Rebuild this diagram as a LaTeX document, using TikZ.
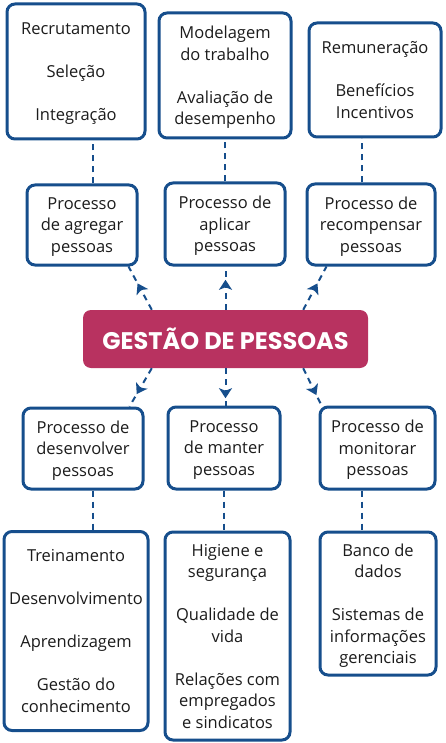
\documentclass[tikz,border=0pt]{standalone}
\usepackage{fontspec}
\setmainfont{Open Sans}
\newfontfamily\titlefont{Poppins}
\usepackage{xcolor}
\usepackage{tikz}
\usetikzlibrary{arrows.meta,decorations.markings}

\definecolor{boxblue}{RGB}{22,78,140}
\definecolor{gpred}{RGB}{184,50,96}
\definecolor{ink}{RGB}{28,28,28}

\begin{document}
\begin{tikzpicture}[x=1pt,y=-1pt]
	\begin{scope}

\tikzset{box/.style={draw=boxblue,line width=3pt,rounded corners=8pt,fill=white,
    align=center,text=ink,inner sep=0pt,text depth=-2pt,font=\fontsize{16.5}{21.5}\selectfont}}
\tikzset{tie/.style={boxblue,line width=2pt,dash pattern=on 6pt off 5pt}}
\tikzset{link/.style={tie,postaction={decorate},
    decoration={markings,mark=at position 30pt with {\arrow{Stealth[length=10pt,width=13pt,inset=2.5pt]}}}}}

\useasboundingbox (0,0) rectangle (446,743);

% the activity boxes on top
\node(recr)[box,minimum width=138pt,minimum height=135pt] at (76,71.5)
  {Recrutamento\\[\baselineskip]Seleção\\[\baselineskip]Integração};
\node(model)[box,minimum width=132pt,minimum height=125pt] at (225,75.5)
  {Modelagem\\do trabalho\\[\baselineskip]Avaliação de\\desempenho};
\node(remun)[box,minimum width=132pt,minimum height=114pt] at (375,80)
  {Remuneração\\[\baselineskip]Benefícios\\Incentivos};

% the processes
\node(agregar)[box,minimum width=110pt,minimum height=80pt] at (82,225)
  {Processo\\de agregar\\pessoas};
\node(aplicar)[box,minimum width=120pt,minimum height=82pt] at (225,224)
  {Processo de\\aplicar\\pessoas};
\node(recomp)[box,minimum width=128pt,minimum height=81pt] at (371,224.5)
  {Processo de\\recompensar\\pessoas};

\node(desenv)[box,minimum width=120pt,minimum height=81pt] at (83,448.5)
  {Processo de\\desenvolver\\pessoas};
\node(manter)[box,minimum width=112pt,minimum height=82pt] at (224,448)
  {Processo\\de manter\\pessoas};
\node(monit)[box,minimum width=115pt,minimum height=82pt] at (377.5,448)
  {Processo de\\monitorar\\pessoas};

% the activity boxes below
\node(trein)[box,minimum width=144pt,minimum height=199pt] at (76,631)
  {Treinamento\\[\baselineskip]Desenvolvimento\\[\baselineskip]Aprendizagem\\[\baselineskip]Gestão do\\conhecimento};
\node(higiene)[box,minimum width=125pt,minimum height=208pt] at (227.5,636)
  {Higiene e\\segurança\\[\baselineskip]Qualidade de\\vida\\[\baselineskip]Relações com\\empregados\\e sindicatos};
\node(banco)[box,minimum width=116pt,minimum height=143pt] at (378,603.5)
  {Banco de\\dados\\[\baselineskip]Sistemas de\\informações\\gerenciais};

% the centre
\node(gestao)[fill=gpred,rounded corners=8pt,minimum width=285pt,minimum height=58pt,
  text=white,font=\titlefont\bfseries\fontsize{24}{28}\selectfont] at (225.5,339)
  {GESTÃO DE PESSOAS};

% dashed ties
\draw[tie] ([xshift=11pt]agregar.north) -- ([xshift=11pt]agregar.north |- recr.south);
\draw[tie] (aplicar.north) -- (aplicar.north |- model.south);
\draw[tie] ([xshift=-9pt]recomp.north) -- ([xshift=-9pt]recomp.north |- remun.south);
\draw[tie] ([xshift=10pt]desenv.south) -- ([xshift=10pt]desenv.south |- trein.north);
\draw[tie] (manter.south) -- (manter.south |- higiene.north);
\draw[tie] ([xshift=-15.5pt]monit.south) -- ([xshift=-15.5pt]monit.south |- banco.north);

% arrows out of the centre
\draw[link] ([xshift=69pt]gestao.north west) -- ([xshift=-10pt]agregar.south east);
\draw[link] (gestao.north) -- (gestao.north |- aplicar.south);
\draw[link] ([xshift=-65pt]gestao.north east) -- ([xshift=21pt]recomp.south west);
\draw[link] ([xshift=69pt]gestao.south west) -- ([xshift=-15pt]desenv.north east);
\draw[link] (gestao.south) -- (gestao.south |- manter.north);
\draw[link] ([xshift=-65pt]gestao.south east) -- ([xshift=3pt]monit.north west);

	\end{scope}
\end{tikzpicture}
\end{document}
